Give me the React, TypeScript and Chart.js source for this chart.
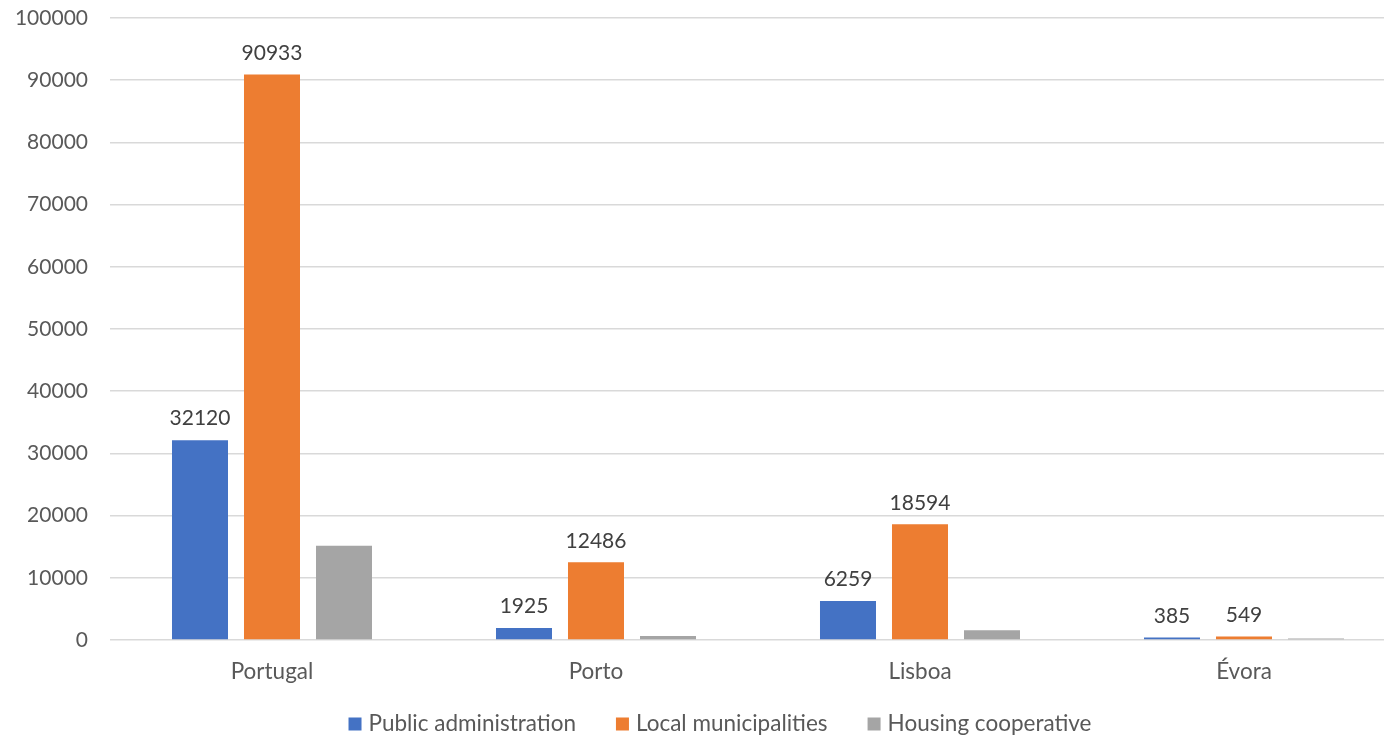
import React, { useEffect, useRef } from "react";
import { Chart, registerables } from "chart.js";

Chart.register(...registerables);

const categories = ["Portugal", "Porto", "Lisboa", "Évora"];
const seriesNames = ["Public administration", "Local municipalities", "Housing cooperative"];
const publicAdministration = [32120, 1925, 6259, 385];
const localMunicipalities = [90933, 12486, 18594, 549];
const housingCooperative = [15150, 650, 1550, 230];
const seriesColors = ["#4472C4", "#ED7D31", "#A5A5A5"];
const labelledSeries = [0, 1];

const FONT = "Lato, 'Open Sans', sans-serif";
const PLOT_BOTTOM = 640;

const valueLabels = {
  id: "valueLabels",
  afterDatasetsDraw(chart: any) {
    const ctx = chart.ctx;
    ctx.save();
    ctx.font = `21px ${FONT}`;
    ctx.fillStyle = "#404040";
    ctx.textAlign = "center";
    ctx.textBaseline = "bottom";
    labelledSeries.forEach((di) => {
      const meta = chart.getDatasetMeta(di);
      meta.data.forEach((bar: any, i: number) => {
        const v = chart.data.datasets[di].data[i];
        ctx.fillText(String(v), bar.x, bar.y - 11);
      });
    });
    ctx.restore();
  },
};

const bottomLegend = {
  id: "bottomLegend",
  afterDraw(chart: any) {
    const ctx = chart.ctx;
    const box = 13;
    const gap = 7;
    const itemGap = 40;
    const y = 724;
    ctx.save();
    ctx.font = `22.5px ${FONT}`;
    ctx.textBaseline = "middle";
    ctx.textAlign = "left";
    const items = chart.data.datasets.map((ds: any) => ({
      label: ds.label,
      color: ds.backgroundColor,
      w: ctx.measureText(ds.label).width,
    }));
    const total =
      items.reduce((a: number, it: any) => a + box + gap + it.w, 0) + itemGap * (items.length - 1);
    let x = chart.width / 2 - total / 2;
    items.forEach((it: any) => {
      ctx.fillStyle = it.color;
      ctx.fillRect(x, y - box / 2, box, box);
      x += box + gap;
      ctx.fillStyle = "#595959";
      ctx.fillText(it.label, x, y);
      x += it.w + itemGap;
    });
    ctx.restore();
  },
};

export default function App() {
  const ref = useRef<HTMLCanvasElement | null>(null);
  useEffect(() => {
    document.body.style.overflow = "hidden";
    const chart = new Chart(ref.current as HTMLCanvasElement, {
      type: "bar",
      data: {
        labels: categories,
        datasets: [publicAdministration, localMunicipalities, housingCooperative].map((d, i) => ({
          label: seriesNames[i],
          data: d,
          backgroundColor: seriesColors[i],
          borderWidth: 0,
          categoryPercentage: 0.6667,
          barPercentage: 0.7778,
        })),
      },
      options: {
        animation: false,
        responsive: true,
        maintainAspectRatio: false,
        layout: { padding: { top: 18, bottom: 0, left: 0, right: 34 } },
        plugins: {
          tooltip: { enabled: false },
          legend: { display: false },
        },
        scales: {
          x: {
            grid: { display: false },
            border: { display: false },
            ticks: { color: "#595959", font: { family: FONT, size: 22.5 }, padding: 10 },
            afterFit: (s: any) => {
              s.height = s.chart.height - PLOT_BOTTOM;
            },
          },
          y: {
            min: 0,
            max: 100000,
            afterFit: (s: any) => {
              s.width = 110;
              s.paddingTop = 0;
              s.paddingBottom = 0;
            },
            grid: { color: "#D9D9D9", lineWidth: 1.5, drawTicks: false },
            border: { display: false },
            ticks: {
              stepSize: 10000,
              color: "#595959",
              font: { family: FONT, size: 21 },
              padding: 22,
              callback: (v: any) => String(v),
            },
          },
        },
      },
      plugins: [valueLabels, bottomLegend],
    });
    return () => chart.destroy();
  }, []);
  return (
    <div style={{ position: "fixed", left: 0, top: 0, width: 1384, height: 736, overflow: "hidden", background: "#fff" }}>
      <div style={{ position: "absolute", left: 0, top: 0, width: 1440, height: 736 }}>
        <canvas ref={ref} />
      </div>
    </div>
  );
}
